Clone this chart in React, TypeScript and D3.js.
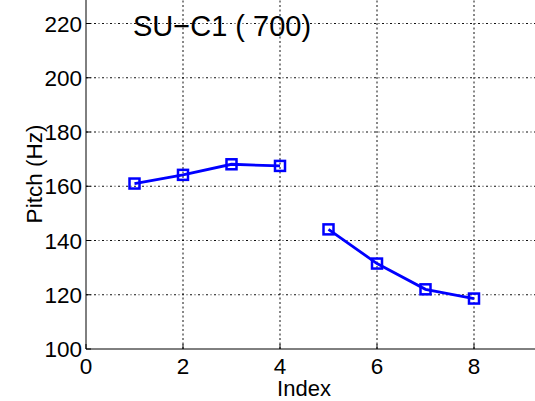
import React, { useEffect, useRef } from "react";
import * as d3 from "d3";

// pitch values per syllable index, null = break in the contour
const indices = [1, 2, 3, 4, 5, 6, 7, 8];
const pitch: (number | null)[] = [161, 164.2, 168.1, 167.5, 144.1, 131.5, 122, 118.6];
const segments = [[0, 1, 2, 3], [4, 5, 6, 7]];
const xTicks = [0, 2, 4, 6, 8];
const yTicks = [100, 120, 140, 160, 180, 200, 220];
const title = "SU\u2212C1 ( 700)";

const W = 535;
const H = 401;

export default function App() {
  const ref = useRef<SVGSVGElement>(null);

  useEffect(() => {
    const svg = d3.select(ref.current);
    svg.selectAll("*").remove();
    const font = "'Liberation Sans', Arial, Helvetica, sans-serif";

    const x = d3.scaleLinear().domain([0, 10]).range([86, 86 + 10 * 48.5]);
    const y = d3.scaleLinear().domain([100, 240]).range([349, 349 - 140 * 2.7125]);

    const g = svg.append("g");

    // grid
    g.selectAll(".vgrid")
      .data(xTicks.filter(d => d > 0))
      .join("line")
      .attr("x1", d => x(d)).attr("x2", d => x(d))
      .attr("y1", y(100)).attr("y2", 0)
      .attr("stroke", "#111").attr("stroke-width", 1)
      .attr("stroke-dasharray", "2,2.5");

    g.selectAll(".hgrid")
      .data(yTicks.filter(d => d > 100))
      .join("line")
      .attr("x1", x(0)).attr("x2", W)
      .attr("y1", d => y(d)).attr("y2", d => y(d))
      .attr("stroke", "#111").attr("stroke-width", 1)
      .attr("stroke-dasharray", "2,2.5,1,2.5");

    // axes lines
    g.append("line")
      .attr("x1", x(0)).attr("x2", x(0))
      .attr("y1", 0).attr("y2", y(100))
      .attr("stroke", "black").attr("stroke-width", 1);
    g.append("line")
      .attr("x1", x(0)).attr("x2", W)
      .attr("y1", y(100)).attr("y2", y(100))
      .attr("stroke", "black").attr("stroke-width", 1);

    // tick marks (inward)
    g.selectAll(".xt")
      .data(xTicks)
      .join("line")
      .attr("x1", d => x(d)).attr("x2", d => x(d))
      .attr("y1", y(100)).attr("y2", y(100) - 5)
      .attr("stroke", "black");
    g.selectAll(".yt")
      .data(yTicks)
      .join("line")
      .attr("x1", x(0)).attr("x2", x(0) + 5)
      .attr("y1", d => y(d)).attr("y2", d => y(d))
      .attr("stroke", "black");

    // tick labels
    g.selectAll(".xl")
      .data(xTicks)
      .join("text")
      .attr("x", d => x(d))
      .attr("y", 374)
      .attr("text-anchor", "middle")
      .attr("font-family", font)
      .attr("font-size", 22.5)
      .text(d => d);
    g.selectAll(".yl")
      .data(yTicks)
      .join("text")
      .attr("x", x(0) - 4)
      .attr("y", d => y(d) + 8)
      .attr("text-anchor", "end")
      .attr("font-family", font)
      .attr("font-size", 22.5)
      .text(d => d);

    // axis labels
    g.append("text")
      .attr("x", 304)
      .attr("y", 396)
      .attr("text-anchor", "middle")
      .attr("font-family", font)
      .attr("font-size", 22)
      .text("Index");
    g.append("text")
      .attr("transform", "translate(42,174) rotate(-90)")
      .attr("text-anchor", "middle")
      .attr("font-family", font)
      .attr("font-size", 22.5)
      .text("Pitch (Hz)");

    // title
    g.append("text")
      .attr("x", 133)
      .attr("y", 36)
      .attr("font-family", font)
      .attr("font-size", 29)
      .text(title);

    // lines
    const line = d3.line<number>()
      .x(i => x(indices[i]))
      .y(i => y(pitch[i] as number));
    g.selectAll(".seg")
      .data(segments)
      .join("path")
      .attr("d", d => line(d))
      .attr("fill", "none")
      .attr("stroke", "#0000ff")
      .attr("stroke-width", 2.8);

    // square markers
    g.selectAll(".mk")
      .data(indices.map((d, i) => ({ x: d, y: pitch[i] })).filter(d => d.y != null))
      .join("rect")
      .attr("x", d => x(d.x) - 5)
      .attr("y", d => y(d.y as number) - 5)
      .attr("width", 10)
      .attr("height", 10)
      .attr("fill", "none")
      .attr("stroke", "#0000ff")
      .attr("stroke-width", 2.5);
  }, []);

  return (
    <svg
      ref={ref}
      width={W}
      height={H}
      style={{ position: "absolute", left: 0, top: 0, background: "white" }}
    />
  );
}
